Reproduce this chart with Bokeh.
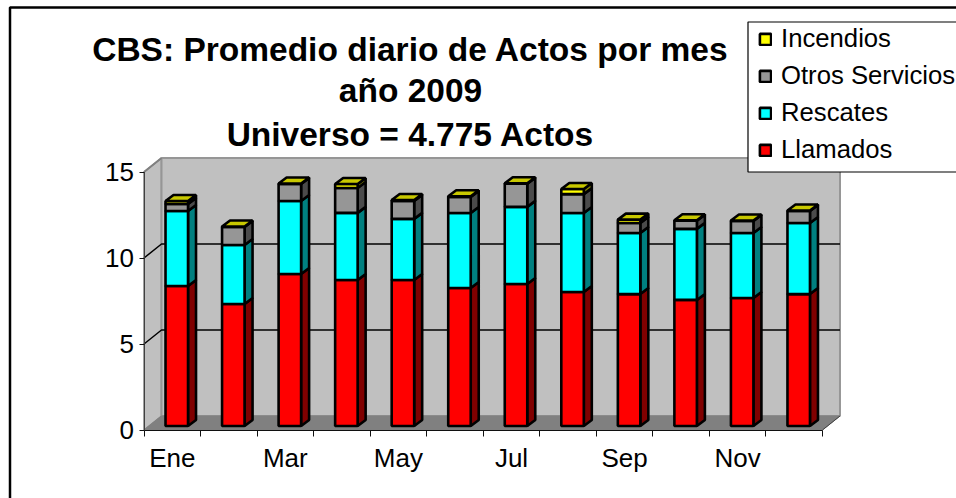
from bokeh.plotting import figure
from bokeh.embed import file_html
from bokeh.resources import INLINE
from bokeh.models import (Range1d, FixedTicker, LinearAxis, Legend, LegendItem, Label, BoxAnnotation)

months = ["Ene", "Feb", "Mar", "Abr", "May", "Jun", "Jul", "Ago", "Sep", "Oct", "Nov", "Dic"]
llamados = [8.14, 7.09, 8.84, 8.49, 8.49, 8.02, 8.26, 7.79, 7.67, 7.33, 7.44, 7.67]
rescates = [4.36, 3.43, 4.24, 3.90, 3.55, 4.36, 4.48, 4.59, 3.55, 4.13, 3.78, 4.13]
otros = [0.41, 1.05, 0.99, 1.45, 1.05, 0.93, 1.34, 1.10, 0.58, 0.47, 0.70, 0.70]
incendios = [0.17, 0.03, 0.03, 0.23, 0.05, 0.05, 0.03, 0.30, 0.20, 0.03, 0.03, 0.03]
x_labels = ["Ene", "Mar", "May", "Jul", "Sep", "Nov"]
y_ticks = [0, 5, 10, 15]
title_lines = ["CBS: Promedio diario de Actos por mes", "año 2009", "Universo = 4.775 Actos"]

FONT = "Liberation Sans"
W, H = 956, 498
X0, Y0 = 143.5, 429.5   # position of the axes origin on the canvas
PX_X = 56.54
PX_Y = 17.2
n = len(months)
# 3-D projection, in data units
WALL_DX, WALL_DY = 17.5 / PX_X, 14 / PX_Y
BAR_W = 22.5 / PX_X
BAR_SHIFT_X, BAR_SHIFT_Y = 4.5 / PX_X, 4 / PX_Y
SIDE_DX, SIDE_DY = 8 / PX_X, 6 / PX_Y
YMAX = 15
BAR_LW = 2.6

p = figure(width=W, height=H, output_backend="svg", toolbar_location=None,
           x_range=Range1d(-X0 / PX_X, (W - X0) / PX_X), y_range=Range1d(-(H - Y0) / PX_Y, Y0 / PX_Y),
           min_border_left=0, min_border_right=0, min_border_top=0, min_border_bottom=0,
           x_axis_type=None, y_axis_type=None, outline_line_color=None)
p.grid.visible = False

WALL_EDGE = "#969696"
# side wall, back wall, floor
p.patch([0, WALL_DX, WALL_DX, 0], [0, WALL_DY, YMAX + WALL_DY, YMAX], fill_color="#c0c0c0",
        line_color="#808080", line_width=1.5)
p.patch([WALL_DX, n + WALL_DX, n + WALL_DX, WALL_DX], [WALL_DY, WALL_DY, YMAX + WALL_DY, YMAX + WALL_DY],
        fill_color="#c0c0c0", line_color=WALL_EDGE, line_width=2)
p.patch([0, n, n + WALL_DX, WALL_DX], [0, 0, WALL_DY, WALL_DY], fill_color="#808080", line_color="#808080", line_width=1)
# gridlines
for t in y_ticks[1:-1]:
    p.line([0, WALL_DX, n + WALL_DX], [t, t + WALL_DY, t + WALL_DY], line_color="#000000", line_width=1.5)
p.line([0, WALL_DX], [YMAX, YMAX + WALL_DY], line_color="#808080", line_width=2)
p.line([n, n + WALL_DX], [0, WALL_DY], line_color="#404040", line_width=1)

series = [
    ("Llamados", llamados, "#ff0000", "#800000"),
    ("Rescates", rescates, "#00ffff", "#008080"),
    ("Otros Servicios", otros, "#969696", "#4b4b4b"),
    ("Incendios", incendios, "#ffff00", "#808000"),
]
lefts = [i + 0.5 - BAR_W / 2 + BAR_SHIFT_X for i in range(n)]
rights = [l + BAR_W for l in lefts]
running = [BAR_SHIFT_Y] * n
items = []
for name, vals, col, dark in series:
    tops = [b + v for b, v in zip(running, vals)]
    xs = [[r, r + SIDE_DX, r + SIDE_DX, r] for r in rights]
    ys = [[b, b + SIDE_DY, t + SIDE_DY, t] for b, t in zip(running, tops)]
    p.patches(xs, ys, fill_color=dark, line_color="black", line_width=BAR_LW)
    q = p.quad(left=lefts, right=rights, bottom=running, top=tops, fill_color=col,
               line_color="black", line_width=BAR_LW)
    items.append(LegendItem(label=name, renderers=[q]))
    running = tops
xs = [[l, r, r + SIDE_DX, l + SIDE_DX] for l, r in zip(lefts, rights)]
ys = [[t, t, t + SIDE_DY, t + SIDE_DY] for t in running]
p.patches(xs, ys, fill_color="#c8c800", line_color="black", line_width=BAR_LW)

# axes
xaxis = LinearAxis(fixed_location=0, ticker=FixedTicker(ticks=[months.index(m) + 0.5 for m in x_labels],
                                      minor_ticks=list(range(n + 1))),
                   major_label_overrides={months.index(m) + 0.5: m for m in x_labels},
                   bounds=(0, n), major_tick_line_color=None, minor_tick_out=6, minor_tick_in=0,
                   major_tick_out=0, major_tick_in=0, major_label_standoff=7,
                   major_label_text_font=FONT, major_label_text_font_size="26px",
                   major_label_text_color="black", axis_line_color="#101010", minor_tick_line_color="#101010")
p.add_layout(xaxis, "below")
yaxis = LinearAxis(fixed_location=0, ticker=FixedTicker(ticks=y_ticks), bounds=(0, YMAX), major_tick_out=5, major_tick_in=0,
                   minor_tick_out=0, minor_tick_in=0, major_label_standoff=5,
                   major_label_text_font=FONT, major_label_text_font_size="26px",
                   major_label_text_color="black", axis_line_color="#404040", major_tick_line_color="#101010")
p.add_layout(yaxis, "left")

# title
for line, sy in zip(title_lines, [449, 408, 364]):
    p.add_layout(Label(x=410, y=sy, x_units="screen", y_units="screen", text=line,
                       text_align="center", text_baseline="middle", text_font=FONT, text_font_style="bold",
                       text_font_size="33.5px", text_color="black"))

# outer frame
p.add_layout(BoxAnnotation(left=9.5, right=W + 20, top=7, bottom=H + 20,
                           left_units="canvas", right_units="canvas", top_units="canvas", bottom_units="canvas",
                           fill_alpha=0, line_color="black", line_alpha=1, line_width=2.5))
# legend box
p.add_layout(BoxAnnotation(left=747.5, right=W + 20, top=21.5, bottom=171.5,
                           left_units="canvas", right_units="canvas", top_units="canvas", bottom_units="canvas",
                           fill_color="white", fill_alpha=1, line_color="black", line_alpha=1, line_width=1.2))
legend = Legend(items=items[::-1], location=(758, 334), orientation="vertical",
                label_text_font=FONT, label_text_font_size="25.7px", label_text_color="black",
                glyph_width=14, glyph_height=14, label_height=20, spacing=8, padding=5, margin=0,
                label_standoff=9, border_line_color=None, background_fill_alpha=0)
p.add_layout(legend, "center")

open("out.html", "w").write(file_html(p, INLINE))
